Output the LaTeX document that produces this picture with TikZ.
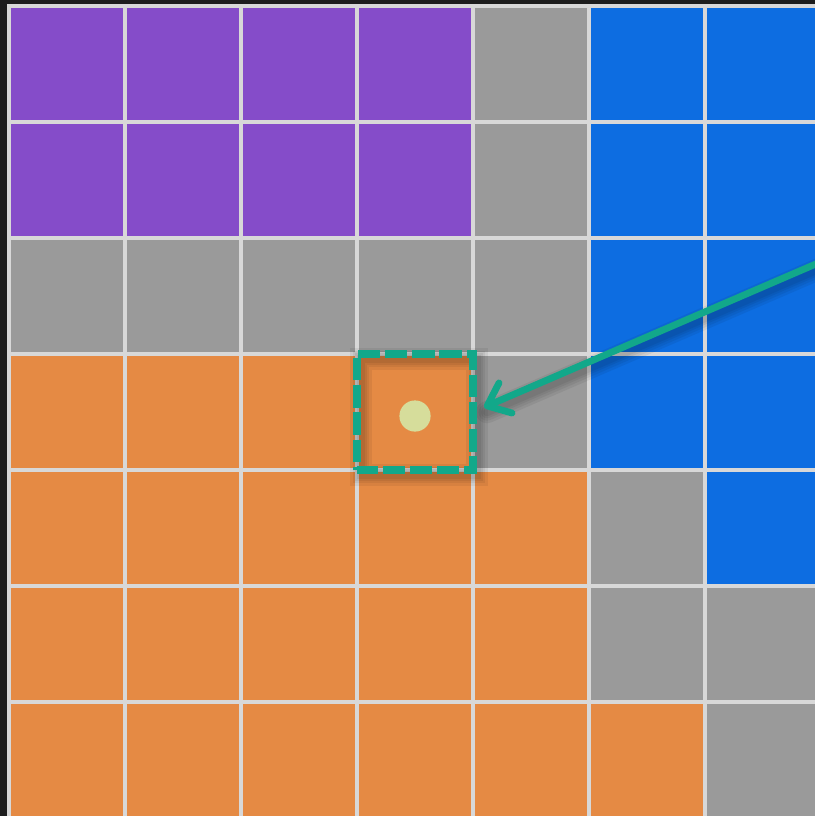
\documentclass[tikz,border=0pt]{standalone}
\usepackage{xcolor}
\usepackage{tikz}
\usetikzlibrary{arrows.meta, positioning, calc}

\definecolor{bgdark}{HTML}{1D1D1D}
\definecolor{gridline}{HTML}{D8D8D8}
\definecolor{cP}{HTML}{854CC9}
\definecolor{cG}{HTML}{9A9A9A}
\definecolor{cB}{HTML}{0D6DE1}
\definecolor{cO}{HTML}{E58A44}
\definecolor{pickteal}{HTML}{12A88A}
\definecolor{dotyellow}{HTML}{D6DD9B}

\begin{document}
\begin{tikzpicture}[
  x=0.025cm, y=-0.025cm,
  cell/.style={draw=gridline, line width=0.115cm, minimum size=2.9cm,
               inner sep=0pt, outer sep=0pt},
  selbox/.style={draw=pickteal, line width=0.18cm, minimum size=2.9cm,
                 inner sep=0pt, outer sep=0pt,
                 dash pattern=on 0.56cm off 0.12cm, dash phase=0.04cm},
  shade/.style={draw=black, opacity=0.06},
  pointer/.style={draw=pickteal, line width=0.17cm, line cap=round,
                  -{Straight Barb[length=0.5cm, width=0.82cm, round]}},
]
  \useasboundingbox (0,0) rectangle (815,816);
  \fill[bgdark] (0,0) rectangle (815,816);
  \clip (0,0) rectangle (815,816);

  % colour map of the cells, top row first
  \foreach \rowlist [count=\r from 0] in {
      {P,P,P,P,G,B,B},
      {P,P,P,P,G,B,B},
      {G,G,G,G,G,B,B},
      {O,O,O,O,G,B,B},
      {O,O,O,O,O,G,B},
      {O,O,O,O,O,G,G},
      {O,O,O,O,O,O,G}} {
    \foreach \col [count=\k from 0] in \rowlist {
      \node[cell, fill=c\col] (c-\r-\k) at (67+116*\k, 64+116*\r) {};
    }
  }

  % soft shadows
  \coordinate (src) at (832,257);
  \foreach \w in {0.55, 0.42, 0.3, 0.2} {
    \draw[shade, line width=\w cm]
      ($(c-3-3.south west)+(4,5)$) rectangle ($(c-3-3.north east)+(4,5)$);
    \draw[shade, line width=\w cm, line cap=round, shorten >=0.3cm]
      ($(src)+(3,5)$) -- ($(c-3-3.east)+(3,5)$);
  }

  % picked cell
  \node[selbox] (sel) at (c-3-3) {};
  \node[circle, fill=dotyellow, minimum size=0.78cm, inner sep=0pt]
    (dot) at ($(sel)+(0,4)$) {};

  % pointer from the right
  \draw[pointer, shorten >=0.3cm] (src) -- (sel.east);
\end{tikzpicture}
\end{document}
